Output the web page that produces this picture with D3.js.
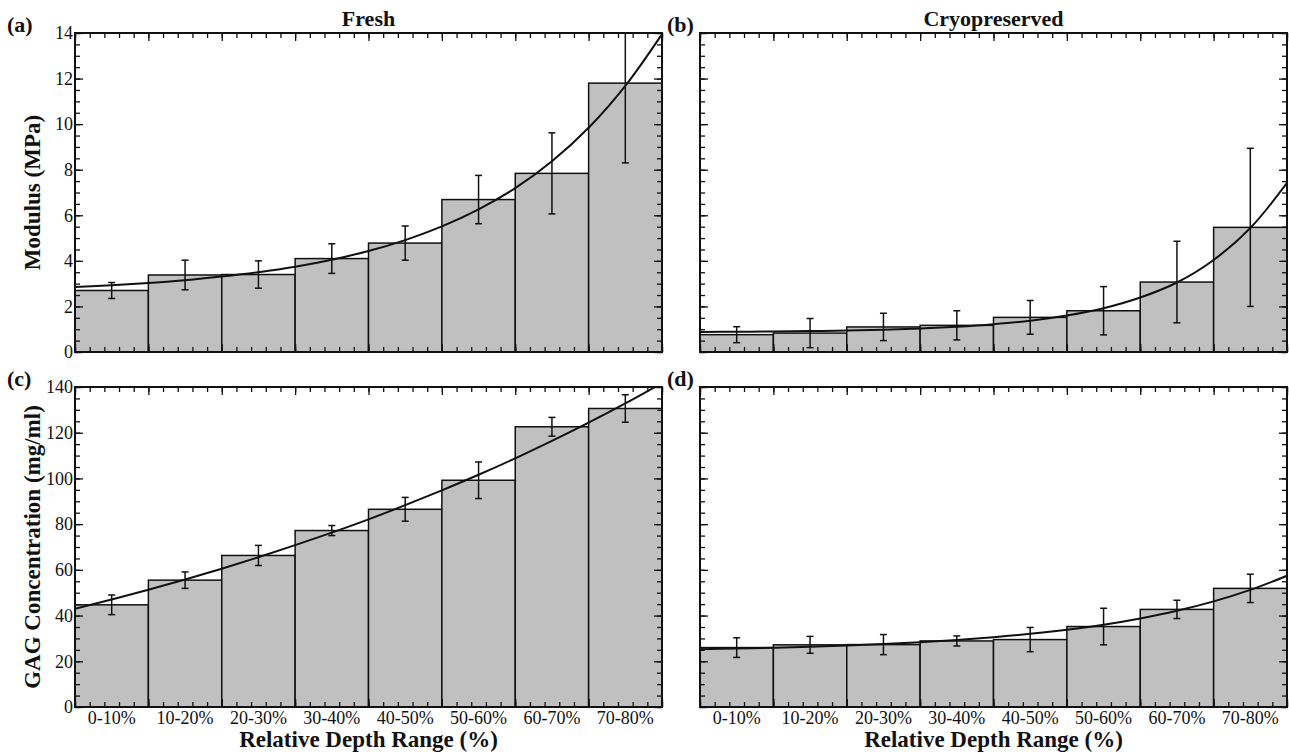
<!DOCTYPE html>
<html>
<head>
<meta charset="utf-8">
<script src="https://cdn.jsdelivr.net/npm/d3@7/dist/d3.min.js"></script>
<style>
  html, body { margin: 0; padding: 0; background: #fff; }
  svg { display: block; }
</style>
</head>
<body>
<svg id="chart" width="1289" height="753"></svg>
<script>
// ---------------- data ----------------
const categories = ["0-10%", "10-20%", "20-30%", "30-40%", "40-50%", "50-60%", "60-70%", "70-80%"];
const depthLo = [0, 10, 20, 30, 40, 50, 60, 70];
const depthHi = [10, 20, 30, 40, 50, 60, 70, 80];

const modFresh    = [2.70, 3.38, 3.40, 4.10, 4.78, 6.69, 7.84, 11.80];
const modFreshErr = [0.35, 0.65, 0.60, 0.65, 0.75, 1.06, 1.78, 3.50];
const modCryo     = [0.76, 0.83, 1.10, 1.17, 1.52, 1.81, 3.07, 5.47];
const modCryoErr  = [0.35, 0.64, 0.60, 0.64, 0.74, 1.06, 1.79, 3.47];

const gagFresh    = [44.7, 55.5, 66.3, 77.2, 86.5, 99.2, 122.6, 130.6];
const gagFreshErr = [4.3, 3.6, 4.4, 2.2, 5.2, 8.0, 4.1, 6.0];
const gagCryo     = [26.0, 27.2, 27.3, 28.9, 29.5, 35.2, 42.7, 51.9];
const gagCryoErr  = [4.3, 3.7, 4.4, 2.2, 5.3, 8.0, 4.0, 6.2];

// fitted trend curves
const fitDepth    = [0, 5, 10, 15, 20, 25, 30, 35, 40, 45, 50, 55, 60, 65, 70, 75, 80];
const fitModFresh = [2.85, 2.93, 3.03, 3.15, 3.31, 3.50, 3.74, 4.05, 4.43, 4.91, 5.51, 6.26, 7.19, 8.37, 9.84, 11.68, 13.95];
const fitModCryo  = [0.88, 0.89, 0.90, 0.92, 0.94, 0.98, 1.03, 1.11, 1.22, 1.37, 1.60, 1.92, 2.39, 3.05, 4.04, 5.44, 7.42];
const fitGagFresh = [43.0, 47.0, 51.3, 55.8, 60.5, 65.5, 70.8, 76.3, 82.1, 88.3, 94.8, 101.6, 108.8, 116.4, 124.4, 132.8, 141.7];
const fitGagCryo  = [25.3, 25.58, 25.93, 26.37, 26.89, 27.54, 28.34, 29.32, 30.52, 32.0, 33.8, 36.0, 38.75, 42.1, 46.22, 51.25, 57.4];

const modTicks = [0, 2, 4, 6, 8, 10, 12, 14];
const gagTicks = [0, 20, 40, 60, 80, 100, 120, 140];
const depthTicks = [0, 10, 20, 30, 40, 50, 60, 70, 80];

const columnTitles = ["Fresh", "Cryopreserved"];
const yTitles = ["Modulus (MPa)", "GAG Concentration (mg/ml)"];
const panelLabels = ["(a)", "(b)", "(c)", "(d)"];
const xTitle = "Relative Depth Range (%)";

// ---------------- layout ----------------
const FONT = "'Liberation Serif', 'Times New Roman', Tinos, 'DejaVu Serif', serif";
const svg = d3.select("#chart");
const cols = [{x0: 75, x1: 662}, {x0: 700, x1: 1287}];
const rows = [{y0: 33, y1: 352}, {y0: 387, y1: 707}];

const panels = [
  {row: 0, col: 0, mean: modFresh, err: modFreshErr, fit: fitModFresh, domain: [0, 14], ticks: modTicks, minor: 0.5, label: panelLabels[0]},
  {row: 0, col: 1, mean: modCryo,  err: modCryoErr,  fit: fitModCryo,  domain: [0, 14], ticks: modTicks, minor: 0.5, label: panelLabels[1]},
  {row: 1, col: 0, mean: gagFresh, err: gagFreshErr, fit: fitGagFresh, domain: [0, 140], ticks: gagTicks, minor: 5, label: panelLabels[2]},
  {row: 1, col: 1, mean: gagCryo,  err: gagCryoErr,  fit: fitGagCryo,  domain: [0, 140], ticks: gagTicks, minor: 5, label: panelLabels[3]}
];

const ink = "#111";

function styleText(sel, size, bold) {
  return sel.attr("font-family", FONT)
    .style("font-family", FONT)
    .attr("font-size", size)
    .style("font-size", size + "px")
    .style("font-weight", bold ? "bold" : "normal")
    .attr("fill", ink);
}

panels.forEach((p, pi) => {
  const c = cols[p.col], r = rows[p.row];
  const x = d3.scaleLinear().domain([0, 80]).range([c.x0, c.x1]);
  const y = d3.scaleLinear().domain(p.domain).range([r.y1, r.y0]);
  const g = svg.append("g");

  const clipId = "clip" + pi;
  svg.append("defs").append("clipPath").attr("id", clipId)
    .append("rect").attr("x", c.x0).attr("y", r.y0)
    .attr("width", c.x1 - c.x0).attr("height", r.y1 - r.y0);

  const plot = g.append("g").attr("clip-path", `url(#${clipId})`);

  // bars
  plot.selectAll("rect.bar").data(p.mean).join("rect")
    .attr("class", "bar")
    .attr("x", (d, i) => x(depthLo[i]))
    .attr("width", (d, i) => x(depthHi[i]) - x(depthLo[i]))
    .attr("y", d => y(d))
    .attr("height", d => y(p.domain[0]) - y(d))
    .attr("fill", "#c0c0c0")
    .attr("stroke", ink)
    .attr("stroke-width", 1.5);

  // error bars
  const eb = plot.selectAll("g.err").data(p.mean).join("g").attr("class", "err")
    .attr("stroke", ink).attr("stroke-width", 1.5);
  const cx = i => x((depthLo[i] + depthHi[i]) / 2);
  eb.append("line")
    .attr("x1", (d, i) => cx(i)).attr("x2", (d, i) => cx(i))
    .attr("y1", (d, i) => y(d - p.err[i])).attr("y2", (d, i) => y(d + p.err[i]));
  eb.append("line")
    .attr("x1", (d, i) => cx(i) - 3.5).attr("x2", (d, i) => cx(i) + 3.5)
    .attr("y1", (d, i) => y(d + p.err[i])).attr("y2", (d, i) => y(d + p.err[i]));
  eb.append("line")
    .attr("x1", (d, i) => cx(i) - 3.5).attr("x2", (d, i) => cx(i) + 3.5)
    .attr("y1", (d, i) => y(d - p.err[i])).attr("y2", (d, i) => y(d - p.err[i]));

  // fit curve
  const line = d3.line().x((d, i) => x(fitDepth[i])).y(d => y(d)).curve(d3.curveCatmullRom);
  plot.append("path").datum(p.fit)
    .attr("d", line)
    .attr("fill", "none")
    .attr("stroke", ink)
    .attr("stroke-width", 2);

  // ticks (inward) on all four sides
  const yMinor = d3.range(p.domain[0], p.domain[1] + 1e-9, p.minor);
  const xMinor = d3.range(0, 80 + 1e-9, 2);
  const noLabel = () => "";
  const addAxis = (axis, tx, ty) => {
    const a = g.append("g").attr("transform", `translate(${tx},${ty})`).call(axis);
    a.attr("font-family", FONT);
    a.select(".domain").remove();
    a.selectAll("line").attr("stroke", ink).attr("stroke-width", 1.3);
    return a;
  };
  addAxis(d3.axisLeft(y).tickValues(yMinor).tickSize(-5).tickFormat(noLabel), c.x0, 0);
  const left = addAxis(d3.axisLeft(y).tickValues(p.ticks).tickSize(-8).tickPadding(2)
      .tickFormat(p.col === 0 ? d3.format("d") : noLabel), c.x0, 0);
  styleText(left.selectAll("text"), 18, false);
  addAxis(d3.axisRight(y).tickValues(yMinor).tickSize(-5).tickFormat(noLabel), c.x1, 0);
  addAxis(d3.axisRight(y).tickValues(p.ticks).tickSize(-8).tickFormat(noLabel), c.x1, 0);
  addAxis(d3.axisBottom(x).tickValues(xMinor).tickSize(-5).tickFormat(noLabel), 0, r.y1);
  addAxis(d3.axisBottom(x).tickValues(depthTicks).tickSize(-8).tickFormat(noLabel), 0, r.y1);
  addAxis(d3.axisTop(x).tickValues(xMinor).tickSize(-5).tickFormat(noLabel), 0, r.y0);
  addAxis(d3.axisTop(x).tickValues(depthTicks).tickSize(-8).tickFormat(noLabel), 0, r.y0);

  // frame
  g.append("rect")
    .attr("x", c.x0).attr("y", r.y0)
    .attr("width", c.x1 - c.x0).attr("height", r.y1 - r.y0)
    .attr("fill", "none").attr("stroke", ink).attr("stroke-width", 2);

  if (p.row === 1) {
    styleText(g.selectAll("text.cat").data(categories).join("text")
      .attr("class", "cat")
      .attr("x", (d, i) => cx(i))
      .attr("y", r.y1 + 17)
      .attr("text-anchor", "middle")
      .text(d => d), 18, false);
    styleText(g.append("text")
      .attr("x", (c.x0 + c.x1) / 2)
      .attr("y", 747)
      .attr("text-anchor", "middle")
      .text(xTitle), 23, true);
  }

  if (p.row === 0) {
    styleText(g.append("text")
      .attr("x", (c.x0 + c.x1) / 2)
      .attr("y", 26)
      .attr("text-anchor", "middle")
      .text(columnTitles[p.col]), 22, true);
  }

  if (p.col === 0) {
    styleText(g.append("text")
      .attr("transform", `translate(40,${(r.y0 + r.y1) / 2}) rotate(-90)`)
      .attr("text-anchor", "middle")
      .text(yTitles[p.row]), 23, true);
  }

  styleText(g.append("text")
    .attr("x", p.col === 0 ? 7 : 667)
    .attr("y", r.y0 - 1)
    .text(p.label), 22, true);
});
</script>
</body>
</html>
